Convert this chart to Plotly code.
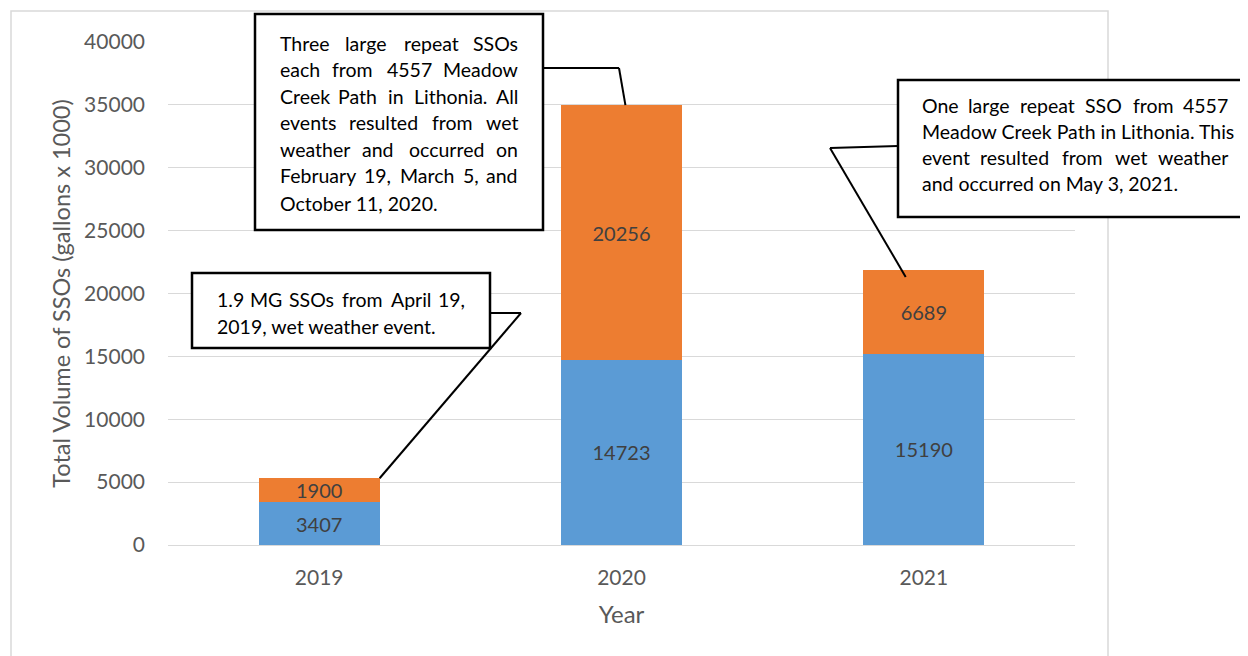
import plotly.graph_objects as go

years = ["2019", "2020", "2021"]
base_volume = [3407, 14723, 15190]
repeat_volume = [1900, 20256, 6689]
y_ticks = [0, 5000, 10000, 15000, 20000, 25000, 30000, 35000, 40000]

BLUE = "#5B9BD5"
ORANGE = "#ED7D31"
LABEL = "#404040"
TICK = "#595959"
FONT = "Lato"

W, H = 1248, 656
OFF = 8  # page body margin
L, R, T, B = 168, 1075, 42, 545


def px(x):
    return (x - L) / (R - L)


def py(y):
    return (B - y) / (B - T)


fig = go.Figure()
fig.add_trace(go.Bar(x=years, y=base_volume, marker_color=BLUE, marker_line_width=0,
                     text=[str(v) for v in base_volume], textposition="inside",
                     insidetextanchor="middle", textangle=0,
                     textfont=dict(color=LABEL, size=20, family=FONT)))
fig.add_trace(go.Bar(x=years, y=repeat_volume, marker_color=ORANGE, marker_line_width=0,
                     text=[str(v) for v in repeat_volume], textposition="inside",
                     insidetextanchor="middle", textangle=0,
                     textfont=dict(color=LABEL, size=20, family=FONT)))

fig.update_layout(
    barmode="stack", bargap=0.6, width=W, height=H, showlegend=False,
    margin=dict(l=L - OFF, r=W + OFF - R, t=T - OFF, b=H + OFF - B),
    paper_bgcolor="white", plot_bgcolor="white",
    uniformtext=dict(minsize=20, mode="show"),
    font=dict(family=FONT, color=TICK),
)
fig.update_yaxes(range=[0, 40000], tickvals=y_ticks, tickformat="d", showgrid=True,
                 gridcolor="#D9D9D9", gridwidth=1, zeroline=False, showline=False,
                 tickfont=dict(size=21, color=TICK, family=FONT), ticklabelstandoff=22,
                 title=dict(text="Total Volume of SSOs (gallons x 1000)",
                            font=dict(size=23.5, color=TICK, family=FONT), standoff=6))
fig.update_xaxes(showline=True, linecolor="#D9D9D9", linewidth=1, showgrid=False,
                 tickfont=dict(size=21, color=TICK, family=FONT), ticklabelstandoff=14,
                 title=dict(text="Year", font=dict(size=24, color=TICK, family=FONT), standoff=17))

shapes = []
shapes.append(dict(type="rect", xref="paper", yref="paper", x0=px(11), x1=px(1108),
                   y0=py(700), y1=py(11), line=dict(color="#D9D9D9", width=1.5),
                   fillcolor="rgba(0,0,0,0)", layer="below"))

tops = [b + r for b, r in zip(base_volume, repeat_volume)]


def callout(box, pts, tip):
    x0, y0, x1, y1 = box
    path = "M " + " L ".join(f"{px(a)},{py(b)}" for a, b in pts)
    shapes.append(dict(type="path", xref="paper", yref="paper", path=path,
                       line=dict(color="black", width=2)))
    shapes.append(dict(type="line", xref="paper", yref="paper",
                       x0=px(pts[-1][0]), y0=py(pts[-1][1]),
                       x1=tip[0], y1=tip[1], line=dict(color="black", width=2)))
    shapes.append(dict(type="rect", xref="paper", yref="paper", x0=px(x0), x1=px(x1),
                       y0=py(y1), y1=py(y0), line=dict(color="black", width=2.5),
                       fillcolor="white"))


def cat_x(i, off):
    return (i + 0.5 + off) / 3


callout((192, 273, 490, 348), [(490, 313), (521, 313)], (cat_x(0, 0.2), tops[0] / 40000))
callout((255, 14, 543, 230), [(543, 68), (619, 68)], (cat_x(1, 0.013), tops[1] / 40000))
callout((898, 80, 1262, 217), [(898, 146), (830, 148)], (cat_x(2, -0.06), tops[2] / 40000 - 0.014))

fig.update_layout(shapes=shapes)

CW = {}
for ch, w in {"a": .50, "b": .56, "c": .46, "d": .56, "e": .52, "f": .32, "g": .50, "h": .56,
              "i": .24, "j": .24, "k": .49, "l": .24, "m": .84, "n": .56, "o": .56, "p": .56,
              "q": .56, "r": .36, "s": .42, "t": .35, "u": .56, "v": .50, "w": .77, "x": .48,
              "y": .50, "z": .45, "T": .56, "S": .51, "C": .65, "A": .67, "L": .49, "O": .78,
              "M": .87, "F": .55, "P": .60, "E": .56, "W": .95, "G": .71, "D": .72, "H": .75,
              "I": .29, "N": .75, ",": .22, ".": .22}.items():
    CW[ch] = w


def wwidth(word, size):
    return sum(CW.get(c, 0.58) for c in word) * size


FS = 19.5
notes = [
    (215, 467, [299, 326], ["1.9 MG SSOs from April 19,", "2019, wet weather event."]),
    (278, 520, [43, 69, 96, 123, 149, 176, 203],
     ["Three large repeat SSOs", "each from 4557 Meadow", "Creek Path in Lithonia. All",
      "events resulted from wet", "weather and occurred on", "February 19, March 5, and",
      "October 11, 2020."]),
    (920, 1230, [105, 132, 157, 183],
     ["One large repeat SSO from 4557", "Meadow Creek Path in Lithonia. This",
      "event resulted from wet weather", "and occurred on May 3, 2021."]),
]
anns = []
for left, right, ys, lines in notes:
    for k, (yy, line) in enumerate(zip(ys, lines)):
        words = line.split(" ")
        widths = [wwidth(w, FS) for w in words]
        gap = (right - left - sum(widths)) / max(len(words) - 1, 1)
        if k == len(lines) - 1 or gap < 0.3 * FS:
            anns.append(dict(xref="paper", yref="paper", x=px(left), y=py(yy), xanchor="left",
                             yanchor="middle", text=line, showarrow=False,
                             font=dict(size=FS, color="black", family=FONT)))
            continue
        pos = left
        for j, (w, ww) in enumerate(zip(words, widths)):
            if j == 0:
                x, anc = left, "left"
            elif j == len(words) - 1:
                x, anc = right, "right"
            else:
                x, anc = pos + ww / 2, "center"
            anns.append(dict(xref="paper", yref="paper", x=px(x), y=py(yy), xanchor=anc,
                             yanchor="middle", text=w, showarrow=False,
                             font=dict(size=FS, color="black", family=FONT)))
            pos += ww + gap
fig.update_layout(annotations=anns)

fig.write_html("out.html")
